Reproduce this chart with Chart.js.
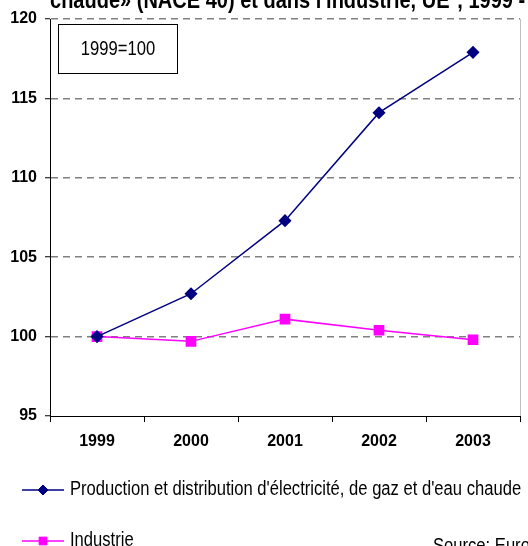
<!DOCTYPE html>
<html><head><meta charset="utf-8">
<script src="https://cdn.jsdelivr.net/npm/chart.js@4/dist/chart.umd.min.js"></script>
<style>html,body{margin:0;padding:0;background:#fff;overflow:hidden}#wrap{position:relative;width:528px;height:546px}</style>
</head><body><div id="wrap"><canvas id="c" width="528" height="546"></canvas></div>
<script>
const categories = ['1999', '2000', '2001', '2002', '2003'];
const energyValues = [100, 102.7, 107.3, 114.1, 117.9];
const industryValues = [100, 99.7, 101.1, 100.4, 99.8];
const yTicks = [95, 100, 105, 110, 115, 120];
const seriesLabels = ["Production et distribution d'électricité, de gaz et d'eau chaude", 'Industrie'];
const titleText = "chaude» (NACE 40) et dans l'industrie, UE*, 1999 - 2003";
const baseNote = '1999=100';
const sourceText = 'Source: Eurostat';

const FONT = '"Liberation Sans", Arial, sans-serif';

function narrowText(ctx, text, x, y, sx) {
  ctx.save();
  ctx.translate(x, y);
  ctx.scale(sx, 1);
  ctx.fillText(text, 0, 0);
  ctx.restore();
}

const extras = {
  id: 'extras',
  beforeDatasetsDraw(chart) {
    const {ctx, chartArea: a} = chart;
    ctx.save();
    ctx.strokeStyle = '#c0c0c0';
    ctx.lineWidth = 1;
    ctx.beginPath();
    ctx.moveTo(a.right + 0.5, a.top);
    ctx.lineTo(a.right + 0.5, a.bottom);
    ctx.stroke();
    ctx.restore();
  },
  afterDraw(chart) {
    const {ctx} = chart;
    ctx.save();
    // title (partially clipped at top, as in the reference)
    ctx.fillStyle = '#000';
    ctx.font = 'bold 23px ' + FONT;
    ctx.textAlign = 'left';
    ctx.textBaseline = 'alphabetic';
    narrowText(ctx, titleText, 50, 8, 0.87);
    // note box
    ctx.fillStyle = '#fff';
    ctx.fillRect(58, 24, 119, 49);
    ctx.strokeStyle = '#000';
    ctx.lineWidth = 1;
    ctx.strokeRect(58.5, 24.5, 119, 49);
    ctx.fillStyle = '#000';
    ctx.font = '20px ' + FONT;
    ctx.textAlign = 'center';
    ctx.textBaseline = 'middle';
    narrowText(ctx, baseNote, 118, 49, 0.83);
    // legend
    const ys = [490, 541];
    const radii = [5, 5.5];
    chart.data.datasets.forEach((ds, i) => {
      const y = ys[i];
      ctx.strokeStyle = ds.borderColor;
      ctx.lineWidth = 1.5;
      ctx.beginPath();
      ctx.moveTo(22, y);
      ctx.lineTo(64, y);
      ctx.stroke();
      ctx.fillStyle = ds.pointBackgroundColor;
      ctx.strokeStyle = ds.pointBorderColor;
      ctx.lineWidth = 1;
      Chart.helpers.drawPoint(ctx, {pointStyle: ds.pointStyle, radius: radii[i], rotation: 0, borderWidth: 1}, 43, y);
      ctx.fillStyle = '#000';
      ctx.font = '20px ' + FONT;
      ctx.textAlign = 'left';
      ctx.textBaseline = 'middle';
      narrowText(ctx, ds.label, 70, y - 1, 0.83);
    });
    // source
    ctx.font = '20px ' + FONT;
    ctx.textAlign = 'left';
    ctx.textBaseline = 'alphabetic';
    ctx.fillStyle = '#000';
    narrowText(ctx, sourceText, 433, 552, 0.83);
    ctx.restore();
  }
};

new Chart(document.getElementById('c'), {
  type: 'line',
  data: {
    labels: categories,
    datasets: [
      {label: seriesLabels[0], data: energyValues, borderColor: '#000080', backgroundColor: '#000080',
       pointBackgroundColor: '#000080', pointBorderColor: '#000080', pointStyle: 'rectRot', pointRadius: 5.5,
       pointHoverRadius: 5.5, borderWidth: 1.5, tension: 0},
      {label: seriesLabels[1], data: industryValues, borderColor: '#FF00FF', backgroundColor: '#FF00FF',
       pointBackgroundColor: '#FF00FF', pointBorderColor: '#FF00FF', pointStyle: 'rect', pointRadius: 6.5,
       pointHoverRadius: 6.5, borderWidth: 1.5, tension: 0}
    ]
  },
  options: {
    responsive: false,
    animation: false,
    devicePixelRatio: 1,
    layout: {padding: {top: 19, right: 4, left: 0, bottom: 0}},
    plugins: {legend: {display: false}, tooltip: {enabled: false}, title: {display: false}},
    scales: {
      x: {
        offset: true,
        grid: {display: true, offset: true, drawOnChartArea: false, drawTicks: true, tickLength: 6, color: '#000', tickColor: '#000'},
        border: {display: true, color: '#000', width: 1},
        ticks: {color: '#000', font: {family: FONT, size: 16, weight: 'bold'}, padding: 10, maxRotation: 0},
        afterFit(s) { s.height = 130; }
      },
      y: {
        min: 95, max: 120,
        afterBuildTicks(s) { s.ticks = yTicks.map(v => ({value: v})); },
        grid: {color: (c) => c.tick && c.tick.value === 95 ? 'rgba(0,0,0,0)' : '#808080', lineWidth: 1.5,
               drawTicks: true, tickLength: 5, tickColor: '#000', tickBorderDash: [], tickWidth: 1},
        border: {display: true, color: '#000', width: 1, dash: [7, 5]},
        ticks: {color: '#000', font: {family: FONT, size: 16, weight: 'bold'}, padding: 8},
        afterFit(s) { s.width = 50; }
      }
    }
  },
  plugins: [extras]
});
</script>
</body></html>
